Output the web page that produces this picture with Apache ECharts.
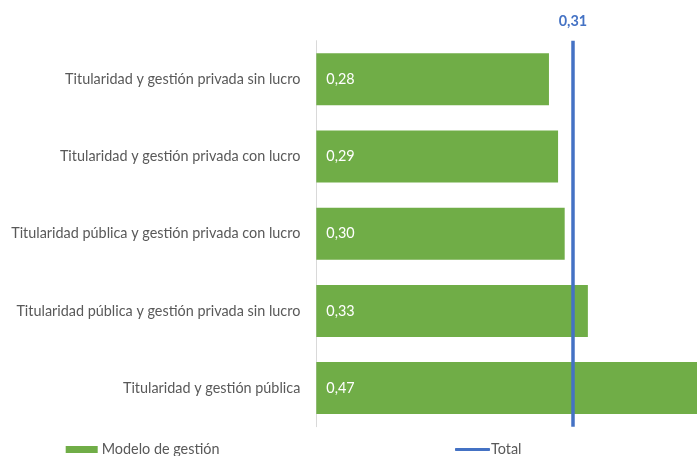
<!DOCTYPE html>
<html>
<head>
<meta charset="utf-8">
<script src="https://cdn.jsdelivr.net/npm/echarts@6/dist/echarts.min.js"></script>
<style>
html,body{margin:0;padding:0;background:#fff;}
#chart{width:697px;height:456px;}
</style>
</head>
<body>
<div id="chart"></div>
<script>
const categories = [
  'Titularidad y gestión privada sin lucro',
  'Titularidad y gestión privada con lucro',
  'Titularidad pública y gestión privada con lucro',
  'Titularidad pública y gestión privada sin lucro',
  'Titularidad y gestión pública'
];
const modeloValues = [0.281, 0.292, 0.300, 0.328, 0.47];
const totalValue = 0.310;
const seriesNames = ['Modelo de gestión', 'Total'];

const fmt = v => v.toFixed(2).replace('.', ',');
const FONT = 'Lato';
const FS = 14.4;

const chart = echarts.init(document.getElementById('chart'));
chart.setOption({
  animation: false,
  textStyle: { fontFamily: FONT },
  grid: { left: 316.3, top: 40.7, height: 386, right: 0, containLabel: false },
  xAxis: {
    type: 'value', min: 0, max: 0.4598, show: false,
    splitLine: { show: false }
  },
  yAxis: {
    type: 'category', data: categories, inverse: true,
    axisLine: { show: true, lineStyle: { color: '#D9D9D9', width: 1 } },
    axisTick: { show: false },
    axisLabel: { color: '#595959', fontSize: FS, fontFamily: FONT, margin: 16 }
  },
  legend: [
    {
      data: [seriesNames[0]], left: 65.7, top: 442.5, padding: 0,
      itemWidth: 32, itemHeight: 7, itemGap: 0, icon: 'rect',
      textStyle: { color: '#595959', fontSize: FS, fontFamily: FONT, padding: [0, 0, 0, -1] }
    },
    {
      data: [seriesNames[1]], left: 455, top: 442.5, padding: 0,
      itemWidth: 35, itemHeight: 3, itemGap: 0, icon: 'roundRect',
      textStyle: { color: '#595959', fontSize: FS, fontFamily: FONT, padding: [0, 0, 0, -4] }
    }
  ],
  series: [
    {
      name: seriesNames[0], type: 'bar', data: modeloValues,
      barCategoryGap: '32.6%',
      itemStyle: { color: '#70AD47' },
      label: {
        show: true, position: 'insideLeft', distance: 10,
        color: '#FFFFFF', fontSize: FS, fontFamily: FONT,
        formatter: p => fmt(p.value)
      }
    },
    {
      name: seriesNames[1], type: 'line', data: [],
      itemStyle: { color: '#4472C4' },
      lineStyle: { color: '#4472C4', width: 3 },
      symbol: 'none',
      markLine: {
        silent: true, symbol: ['none', 'none'],
        lineStyle: { color: '#4472C4', width: 3.5, type: 'solid' },
        label: {
          show: true, position: 'start', distance: 12,
          color: '#4472C4', fontWeight: 'bold', fontSize: FS, fontFamily: FONT,
          formatter: () => fmt(totalValue)
        },
        data: [{ xAxis: totalValue }]
      }
    }
  ]
});
</script>
</body>
</html>
